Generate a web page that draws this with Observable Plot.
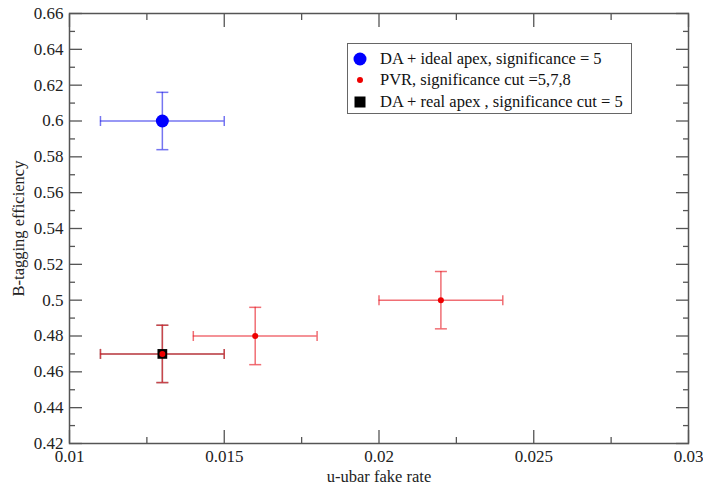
<!DOCTYPE html>
<html><head><meta charset="utf-8">
<script src="https://cdn.jsdelivr.net/npm/d3@7"></script>
<script src="https://cdn.jsdelivr.net/npm/@observablehq/plot@0.6"></script>
<style>
body{margin:0;background:#fff;}
#wrap{position:relative;width:703px;height:485px;}
#wrap svg text{font-family:"Liberation Serif",serif !important;}
#wrap svg g[aria-label="x-axis tick label"] text, #wrap svg g[aria-label="y-axis tick label"] text{font-size:17px !important;}
#wrap svg g[aria-label="x-axis label"] text, #wrap svg g[aria-label="y-axis label"] text{font-size:16.5px !important;}
#legend{position:absolute;left:347px;top:43px;width:285px;height:71px;border:1.5px solid #666;font-family:"Liberation Serif",serif;font-size:16.5px;color:#111;background:#fff;box-sizing:border-box;}
.row{position:absolute;left:0;height:20px;display:flex;align-items:center;white-space:nowrap;}
.row svg{width:32px;height:20px;}
</style></head><body>
<div id="wrap"><div id="legend"></div></div>
<script>
// ---- data ----
const seriesNames = ["DA + ideal apex, significance = 5", "PVR, significance cut =5,7,8", "DA + real apex , significance cut = 5"];
const blueX = [0.013];
const blueY = [0.60];
const blueXErr = [0.002];
const blueYErr = [0.016];
const redX = [0.013, 0.016, 0.022];
const redY = [0.47, 0.48, 0.50];
const redXErr = [0.002, 0.002, 0.002];
const redYErr = [0.016, 0.016, 0.016];
const blackX = [0.013];
const blackY = [0.47];
const blackXErr = [0.002];
const blackYErr = [0.016];
const xMajor = [0.01, 0.015, 0.02, 0.025, 0.03];
const xTickLabels = ["0.01", "0.015", "0.02", "0.025", "0.03"];
const xMinor = [0.0125, 0.0175, 0.0225, 0.0275];
const yMajor = [0.42, 0.44, 0.46, 0.48, 0.50, 0.52, 0.54, 0.56, 0.58, 0.60, 0.62, 0.64, 0.66];
const yTickLabels = ["0.42", "0.44", "0.46", "0.48", "0.5", "0.52", "0.54", "0.56", "0.58", "0.6", "0.62", "0.64", "0.66"];
const yMinor = [0.43, 0.45, 0.47, 0.49, 0.51, 0.53, 0.55, 0.57, 0.59, 0.61, 0.63, 0.65];

const mk = (X, Y, EX, EY) => X.map((x, i) => ({x, y: Y[i], ex: EX[i], ey: EY[i]}));
const blue = mk(blueX, blueY, blueXErr, blueYErr);
const red = mk(redX, redY, redXErr, redYErr);
const black = mk(blackX, blackY, blackXErr, blackYErr);

const vbar = {draw(ctx, size) { const r = Math.sqrt(size / Math.PI); ctx.moveTo(0, -r); ctx.lineTo(0, r); }};
const hbar = {draw(ctx, size) { const r = Math.sqrt(size / Math.PI); ctx.moveTo(-r, 0); ctx.lineTo(r, 0); }};

function errorBars(data, color, opacity) {
  const o = {stroke: color, strokeOpacity: opacity, strokeWidth: 1.5};
  return [
    Plot.ruleY(data, {y: "y", x1: d => d.x - d.ex, x2: d => d.x + d.ex, ...o}),
    Plot.ruleX(data, {x: "x", y1: d => d.y - d.ey, y2: d => d.y + d.ey, ...o}),
    Plot.dot(data, {x: d => d.x - d.ex, y: "y", symbol: vbar, r: 5, fill: "none", ...o}),
    Plot.dot(data, {x: d => d.x + d.ex, y: "y", symbol: vbar, r: 5, fill: "none", ...o}),
    Plot.dot(data, {x: "x", y: d => d.y - d.ey, symbol: hbar, r: 6, fill: "none", ...o}),
    Plot.dot(data, {x: "x", y: d => d.y + d.ey, symbol: hbar, r: 6, fill: "none", ...o})
  ];
}

const font = {fontFamily: "Liberation Serif, serif", fontSize: 17};
const tickStyle = {stroke: "#555", strokeWidth: 1.3, tickFormat: () => "", label: null};

const chart = Plot.plot({
  width: 703, height: 485,
  marginLeft: 69, marginRight: 15, marginTop: 13, marginBottom: 42,
  style: {fontFamily: "Liberation Serif, serif", fontSize: "17px", color: "#222", background: "#fff"},
  x: {domain: [0.01, 0.03]},
  y: {domain: [0.42, 0.66]},
  marks: [
    ...errorBars(black, "#000", 0.45),
    ...errorBars(red, "#e8202a", 0.65),
    ...errorBars(blue, "#2020e8", 0.62),
    Plot.dot(blue, {x: "x", y: "y", r: 6.5, fill: "#0000ff", stroke: "none"}),
    Plot.dot(black, {x: "x", y: "y", symbol: "square", r: 5.5, fill: "#000", stroke: "none"}),
    Plot.dot(red, {x: "x", y: "y", r: 3, fill: "#ee0000", stroke: "none"}),
    // inward ticks
    Plot.axisX({anchor: "bottom", ticks: xMajor, tickSize: -13, ...tickStyle}),
    Plot.axisX({anchor: "bottom", ticks: xMinor, tickSize: -6, ...tickStyle}),
    Plot.axisX({anchor: "top", ticks: xMajor, tickSize: -13, ...tickStyle}),
    Plot.axisX({anchor: "top", ticks: xMinor, tickSize: -6, ...tickStyle}),
    Plot.axisY({anchor: "left", ticks: yMajor, tickSize: -13, ...tickStyle}),
    Plot.axisY({anchor: "left", ticks: yMinor, tickSize: -6, ...tickStyle}),
    Plot.axisY({anchor: "right", ticks: yMajor, tickSize: -13, ...tickStyle}),
    Plot.axisY({anchor: "right", ticks: yMinor, tickSize: -6, ...tickStyle}),
    // labels
    Plot.axisX({anchor: "bottom", ticks: xMajor, tickSize: 0, tickPadding: 6, ...font, fill: "#222",
      tickFormat: d => xTickLabels[xMajor.indexOf(d)],
      label: "u-ubar fake rate", labelAnchor: "center", labelOffset: 38, labelArrow: "none"}),
    Plot.axisY({anchor: "left", ticks: yMajor, tickSize: 0, tickPadding: 6, ...font, fill: "#222",
      tickFormat: d => yTickLabels[yMajor.indexOf(d)],
      label: "B-tagging efficiency", labelAnchor: "center", labelOffset: 57, labelArrow: "none"}),
    Plot.frame({stroke: "#555", strokeWidth: 1.5})
  ]
});
document.getElementById("wrap").prepend(chart);

// legend
const legendSymbols = [
  '<circle cx="12" cy="10" r="6.5" fill="#0000ff"/>',
  '<circle cx="12" cy="10" r="3" fill="#ee0000"/>',
  '<rect x="6.5" y="4.5" width="11" height="11" fill="#000"/>'
];
const legend = document.getElementById("legend");
const rowTops = [5, 26, 48];
seriesNames.forEach((name, i) => {
  const row = document.createElement("div");
  row.className = "row";
  row.style.top = rowTops[i] + "px";
  row.innerHTML = `<svg viewBox="0 0 32 20">${legendSymbols[i]}</svg><span>${name}</span>`;
  legend.appendChild(row);
});
</script>
</body></html>
